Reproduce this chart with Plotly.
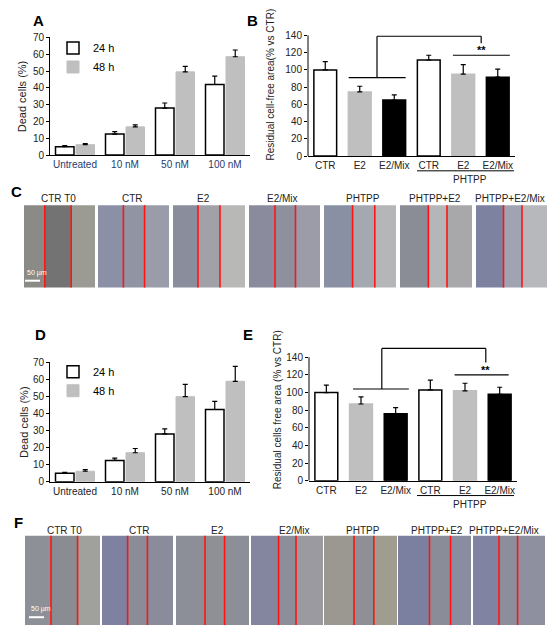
"""Cell death and wound-healing figure (panels A-F), rebuilt with Plotly."""

import plotly.graph_objects as go

W, H = 550, 634
FONT = "Liberation Sans, Arial, sans-serif"

# ---- data ---------------------------------------------------------------
doses = ["Untreated", "10 nM", "50 nM", "100 nM"]

dead_24h_A = [5.0, 12.5, 28.0, 42.0]
dead_24h_A_err = [0.6, 1.5, 3.0, 5.0]
dead_48h_A = [6.2, 16.8, 49.5, 58.5]
dead_48h_A_err = [0.6, 1.2, 3.3, 4.0]

dead_24h_D = [5.0, 12.5, 28.0, 42.3]
dead_24h_D_err = [0.6, 1.3, 3.0, 4.7]
dead_48h_D = [6.2, 17.0, 49.8, 58.8]
dead_48h_D_err = [1.0, 2.5, 7.2, 8.7]

wound_groups = ["CTR", "E2", "E2/Mix", "CTR", "E2", "E2/Mix"]
wound_B = [100.0, 74.4, 65.0, 111.5, 95.0, 91.6]
wound_B_err = [9.5, 6.6, 6.0, 5.5, 11.0, 9.4]
wound_E = [100.0, 87.0, 76.0, 103.0, 102.0, 98.0]
wound_E_err = [8.5, 8.0, 7.0, 11.0, 8.5, 8.0]

img_titles = ["CTR T0", "CTR", "E2", "E2/Mix", "PHTPP", "PHTPP+E2", "PHTPP+E2/Mix"]

# ---- helpers ------------------------------------------------------------
def px(x):
    return x / W


def py(y):
    return 1 - y / H


fig = go.Figure()

bar_fill = ["white", "#bfbfbf", "black", "white", "#bfbfbf", "black"]
bar_line = ["black", "#bfbfbf", "black", "black", "#bfbfbf", "black"]


def err(vals):
    return dict(type="data", symmetric=False, array=vals,
                arrayminus=[0] * len(vals), color="black",
                thickness=1.2, width=2.5)


def dose_bars(xa, ya, y24, e24, y48, e48, legend):
    fig.add_trace(go.Bar(
        x=doses, y=y24, name="24 h", xaxis=xa, yaxis=ya, legend=legend,
        width=0.37, offset=-0.39,
        marker=dict(color="white", line=dict(color="black", width=1.5)),
        error_y=err(e24)))
    fig.add_trace(go.Bar(
        x=doses, y=y48, name="48 h", xaxis=xa, yaxis=ya, legend=legend,
        width=0.37, offset=0.02,
        marker=dict(color="#bfbfbf", line=dict(color="#bfbfbf", width=1)),
        error_y=err(e48)))


def wound_bars(xa, ya, vals, errs):
    fig.add_trace(go.Bar(
        x=list(range(len(wound_groups))), y=vals, xaxis=xa, yaxis=ya,
        width=0.66, showlegend=False,
        marker=dict(color=bar_fill, line=dict(color=bar_line, width=1.5)),
        error_y=err(errs)))


dose_bars("x", "y", dead_24h_A, dead_24h_A_err, dead_48h_A, dead_48h_A_err, "legend")
wound_bars("x2", "y2", wound_B, wound_B_err)
dose_bars("x3", "y3", dead_24h_D, dead_24h_D_err, dead_48h_D, dead_48h_D_err, "legend2")
wound_bars("x4", "y4", wound_E, wound_E_err)

tickfont = dict(family=FONT, size=10, color="#222")
yax = dict(showline=True, linecolor="black", linewidth=1, ticks="outside",
           ticklen=3, tickcolor="black", showgrid=False, zeroline=False,
           tickfont=tickfont)
xax = dict(showline=True, linecolor="black", linewidth=1, ticks="",
           showgrid=False, zeroline=False, tickfont=tickfont)

# wound plots: y range runs above 140 so brackets fit; axis line drawn as shape
wy = dict(yax, showline=False, range=[0, 155], tickvals=list(range(0, 141, 20)))
wx = dict(xax, range=[-0.5, 5.5], tickvals=list(range(6)), ticktext=wound_groups)

fig.update_layout(
    xaxis=dict(xax, domain=[px(50), px(250)], anchor="y",
               tickfont=dict(tickfont, color="#1f3b6e")),
    yaxis=dict(yax, domain=[py(152), py(32)], range=[0, 70], dtick=10, anchor="x"),
    xaxis2=dict(wx, domain=[px(308), px(515)], anchor="y2"),
    yaxis2=dict(wy, domain=[py(153), py(16.8)], anchor="x2"),
    xaxis3=dict(xax, domain=[px(50), px(250)], anchor="y3"),
    yaxis3=dict(yax, domain=[py(485), py(363)], range=[0, 70], dtick=10, anchor="x3"),
    xaxis4=dict(wx, domain=[px(309), px(517)], anchor="y4"),
    yaxis4=dict(wy, domain=[py(484), py(344.5)], anchor="x4"),
    barmode="overlay",
)

leg = dict(font=dict(family=FONT, size=11, color="black"), bgcolor="rgba(0,0,0,0)",
           xanchor="left", yanchor="top", itemwidth=30, tracegroupgap=0)
fig.update_layout(legend=dict(leg, x=px(53), y=py(28)),
                  legend2=dict(leg, x=px(53), y=py(358)))

shapes = []
ann = []


def label(x, y, text, size=10, **kw):
    d = dict(xref="paper", yref="paper", x=px(x), y=py(y), text=text,
             showarrow=False, xanchor="center", yanchor="middle",
             font=dict(family=FONT, size=size, color=kw.pop("color", "#222")))
    d.update(kw)
    ann.append(d)


# y axis lines for the wound plots (0-140 only)
for xa, ya in (("x2", "y2"), ("x4", "y4")):
    shapes.append(dict(type="line", xref=f"{xa} domain", yref=ya, x0=0, x1=0,
                       y0=0, y1=140, line=dict(color="black", width=1)))

line = dict(color="black", width=1.2)


def bracket(xa, ya, top, left_x, left_y, base_x0, base_x1, right_x, right_y,
            star_y, star_x0, star_x1):
    shapes.extend([
        dict(type="line", xref=xa, yref=ya, x0=base_x0, x1=base_x1,
             y0=left_y, y1=left_y, line=line),
        dict(type="line", xref=xa, yref=ya, x0=left_x, x1=left_x,
             y0=left_y, y1=top, line=line),
        dict(type="line", xref=xa, yref=ya, x0=left_x, x1=right_x,
             y0=top, y1=top, line=line),
        dict(type="line", xref=xa, yref=ya, x0=right_x, x1=right_x,
             y0=top, y1=right_y, line=line),
        dict(type="line", xref=xa, yref=ya, x0=star_x0, x1=star_x1,
             y0=star_y, y1=star_y, line=line),
    ])
    ann.append(dict(xref=xa, yref=ya, x=right_x, y=star_y, text="<b>**</b>",
                    showarrow=False, xanchor="center", yanchor="bottom", yshift=-3,
                    font=dict(family=FONT, size=11, color="black")))


bracket("x2", "y2", 139, 1.5, 91, 0.68, 2.33, 4.52, 131, 117, 3.7, 5.35)
bracket("x4", "y4", 150, 1.6, 104, 0.77, 2.38, 4.6, 134, 120, 3.7, 5.26)

# PHTPP group underline
for y_line, y_txt in ((168, 177), (499, 508)):
    shapes.append(dict(type="line", xref="paper", yref="paper", x0=px(417),
                       x1=px(514), y0=py(y_line), y1=py(y_line),
                       line=dict(color="black", width=1)))
    label(470, y_txt, "PHTPP")

# axis titles
label(22, 92, "Dead cells (%)", size=11, textangle=-90)
label(270, 80, "Residual cell-free area(% vs CTR)", textangle=-90)
label(24, 424, "Dead cells (%)", size=11, textangle=-90)
label(277, 412, "Residual cells free area (% vs CTR)", textangle=-90)

# panel letters
for x, y, t in ((38, 15, "A"), (252, 15, "B"), (16, 189, "C"),
                (40, 335, "D"), (248, 335, "E"), (18, 526, "F")):
    label(x, y, f"<b>{t}</b>", size=15, color="black")

# ---- micrograph rows (flat stand-ins for the photos) --------------------
row_C = dict(
    top=203, bottom=287, title_y=196,
    boxes=[(24, 95), (98, 169), (173, 245), (249, 320), (324, 396), (400, 472), (476, 547)],
    cuts=[(44.8, 71.2), (123.4, 144.6), (198, 220), (275, 295.5), (352.6, 374.8),
          (428.4, 447), (503.5, 522)],
    title_x=[58, 132, 203, 282, 363, 435, 510],
    tones=[("#8a8a86", "#737373", "#9b9a93"), ("#8c90a6", "#9094a3", "#9a9caa"),
           ("#8a8e9c", "#a0a2a8", "#b8b8b6"), ("#8a8c9e", "#8e909e", "#9c9ca8"),
           ("#8a90a4", "#a4a8b0", "#b4b6b8"), ("#8a8c96", "#b4b6b8", "#a8a8aa"),
           ("#7c82a0", "#a0a4b2", "#b6b8bc")],
    bar=(25, 40, 280, 272),
)
row_F = dict(
    top=540, bottom=631, title_y=535,
    boxes=[(25, 100), (102, 173), (176, 249), (251, 323), (324, 397), (398, 471), (473, 545)],
    cuts=[(51, 77.6), (127.6, 147.4), (205, 224.6), (278.6, 296), (354, 373.8),
          (429.5, 450.6), (499, 517.6)],
    title_x=[64.5, 139, 217, 294, 363, 437, 504],
    tones=[("#8e9098", "#8a8c92", "#a0a09c"), ("#7e82a0", "#8a8c98", "#8a8c9c"),
           ("#8c8e98", "#8e9096", "#8c8e98"), ("#8486a0", "#8c8e9a", "#9a9aa0"),
           ("#9a9890", "#8e9096", "#a09c90"), ("#7c80a0", "#8a8c98", "#8a8ca0"),
           ("#8084a2", "#8c8e9c", "#8e90a0")],
    bar=(29, 44, 623, 615),
)

for row in (row_C, row_F):
    y0, y1 = py(row["bottom"]), py(row["top"])
    for (bx0, bx1), (c0, c1), tones, tx, title in zip(
            row["boxes"], row["cuts"], row["tones"], row["title_x"], img_titles):
        for a, b, col in ((bx0, c0, tones[0]), (c0, c1, tones[1]), (c1, bx1, tones[2])):
            shapes.append(dict(type="rect", xref="paper", yref="paper",
                               x0=px(a), x1=px(b), y0=y0, y1=y1,
                               fillcolor=col, line=dict(width=0), layer="below"))
        for c in (c0, c1):
            shapes.append(dict(type="line", xref="paper", yref="paper",
                               x0=px(c), x1=px(c), y0=y0, y1=y1,
                               line=dict(color="#ff1414", width=1.6)))
        label(tx, row["title_y"], title, size=10)
    sx0, sx1, sy, ty = row["bar"]
    shapes.append(dict(type="line", xref="paper", yref="paper", x0=px(sx0),
                       x1=px(sx1), y0=py(sy), y1=py(sy),
                       line=dict(color="white", width=2)))
    label(sx0, ty, "50 µm", size=7, color="white", xanchor="left")

fig.update_layout(
    width=W, height=H, margin=dict(l=0, r=0, t=0, b=0),
    paper_bgcolor="white", plot_bgcolor="white",
    font=dict(family=FONT, color="#222"),
    shapes=shapes, annotations=ann,
)

# page body has a default 8px margin; drop it so the figure fills the window
fig.write_html("out.html", config={"displayModeBar": False},
               post_script="document.body.style.margin='0';")
